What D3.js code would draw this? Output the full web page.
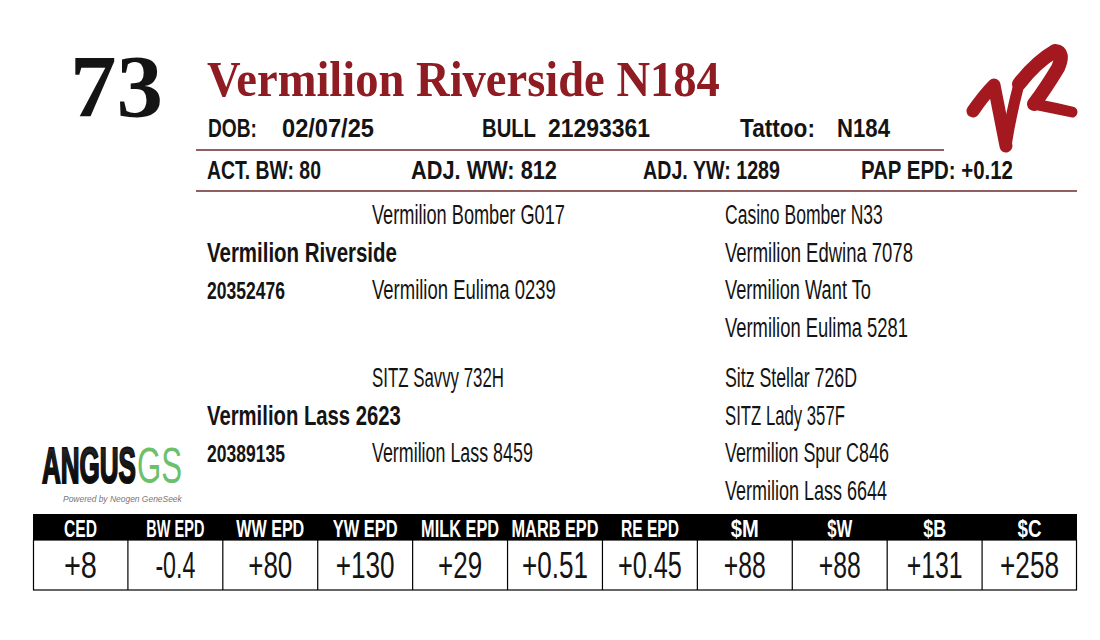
<!DOCTYPE html>
<html>
<head>
<meta charset="utf-8">
<script src="https://cdn.jsdelivr.net/npm/d3@7"></script>
<style>
  body { margin: 0; background: #fff; }
  text { font-family: "Liberation Sans Narrow", "Liberation Sans", Arial, sans-serif; fill: #141414; }
  .serif { font-family: "Liberation Serif", "Times New Roman", serif; font-weight: bold; }
  .info { font-size: 25px; font-weight: bold; }
  .ped { font-size: 27px; }
  .pedBold { font-size: 28px; font-weight: bold; }
  .reg { font-size: 24px; font-weight: bold; }
  .head { font-size: 23px; font-weight: bold; fill: #fff; }
  .val { font-size: 37px; }
</style>
</head>
<body>
<div id="card"></div>
<script>
// lot data
const lotNumber = "73";
const animalName = "Vermilion Riverside N184";
const idLabels = ["DOB:", "BULL", "Tattoo:"];
const idValues = ["02/07/25", "21293361", "N184"];
const perfLabels = ["ACT. BW:", "ADJ. WW:", "ADJ. YW:", "PAP EPD:"];
const perfValues = ["80", "812", "1289", "+0.12"];

// pedigree: [name, reg, sire, dam] and the four great-grandparents
const sireSide = ["Vermilion Riverside", "20352476", "Vermilion Bomber G017", "Vermilion Eulima 0239"];
const sireGrand = ["Casino Bomber N33", "Vermilion Edwina 7078", "Vermilion Want To", "Vermilion Eulima 5281"];
const damSide = ["Vermilion Lass 2623", "20389135", "SITZ Savvy 732H", "Vermilion Lass 8459"];
const damGrand = ["Sitz Stellar 726D", "SITZ Lady 357F", "Vermilion Spur C846", "Vermilion Lass 6644"];

const epdLabels = ["CED", "BW EPD", "WW EPD", "YW EPD", "MILK EPD", "MARB EPD", "RE EPD", "$M", "$W", "$B", "$C"];
const epdValues = ["+8", "-0.4", "+80", "+130", "+29", "+0.51", "+0.45", "+88", "+88", "+131", "+258"];

// measured text widths (layout only)
const fitWidths = {
  "73": 93, "Vermilion Riverside N184": 513,
  "DOB:": 49, "02/07/25": 92, "BULL": 54, "21293361": 102, "Tattoo:": 75, "N184": 53,
  "ACT. BW: 80": 114, "ADJ. WW: 812": 146, "ADJ. YW: 1289": 137, "PAP EPD: +0.12": 152,
  "Vermilion Riverside": 190, "Vermilion Lass 2623": 194, "20352476": 78, "20389135": 78,
  "Vermilion Bomber G017": 193, "Vermilion Eulima 0239": 184, "SITZ Savvy 732H": 132, "Vermilion Lass 8459": 161,
  "Casino Bomber N33": 158, "Vermilion Edwina 7078": 188, "Vermilion Want To": 146, "Vermilion Eulima 5281": 183,
  "Sitz Stellar 726D": 132, "SITZ Lady 357F": 120, "Vermilion Spur C846": 164, "Vermilion Lass 6644": 162,
  "CED": 33, "BW EPD": 58, "WW EPD": 68, "YW EPD": 65, "MILK EPD": 78, "MARB EPD": 87, "RE EPD": 58,
  "$M": 28, "$W": 25, "$B": 23, "$C": 24,
  "+8": 33, "-0.4": 40, "+80": 44, "+130": 59, "+29": 44, "+0.51": 66, "+0.45": 64,
  "+88": 42, "+131": 56, "+258": 59,
  "ANGUS": 94, "GS": 45, "Powered by Neogen GeneSeek": 119
};

const width = 1100;
const height = 640;
const red = "#8e1c22";
const rule = "#6b2a2a";

const svg = d3.select("#card").append("svg").attr("width", width).attr("height", height);

// append a text, then squeeze it to its measured width at (x, y)
function put(g, txt, cls, anchor) {
  return g.append("text")
    .attr("class", cls)
    .attr("text-anchor", anchor || "start")
    .text(txt);
}
function fit(t, x, y) {
  const w = fitWidths[t.text()];
  let sx = 1;
  if (w) sx = w / t.node().getComputedTextLength();
  t.attr("transform", `translate(${x},${y}) scale(${sx},1)`);
  return t;
}
function place(g, txt, x, y, cls, anchor) {
  return fit(put(g, txt, cls, anchor), x, y);
}

// header: lot number and name
fit(put(svg, lotNumber, "serif").attr("font-size", 88), 70, 116);
fit(put(svg, animalName, "serif").attr("font-size", 50).style("fill", red), 207, 96);

// id row and performance row
const idLabelX = [208, 482, 740];
const idValueX = [282, 548, 837];
idLabels.forEach((d, i) => {
  place(svg, d, idLabelX[i], 137, "info");
  place(svg, idValues[i], idValueX[i], 137, "info");
});
svg.append("line").attr("x1", 196).attr("x2", 944).attr("y1", 150).attr("y2", 150)
  .attr("stroke", rule).attr("stroke-width", 1.5);

const perfX = [207, 411, 643, 861];
perfLabels.forEach((d, i) => {
  place(svg, `${d} ${perfValues[i]}`, perfX[i], 179, "info");
});
svg.append("line").attr("x1", 196).attr("x2", 1077).attr("y1", 191).attr("y2", 191)
  .attr("stroke", rule).attr("stroke-width", 1.5);

// pedigree
const rowY = d3.scaleLinear().domain([0, 3]).range([224, 337]);
const damOffset = 163;
const colX = [207, 372, 725];

function pedigreeBlock(side, grand, offset) {
  const g = svg.append("g");
  place(g, side[0], colX[0], rowY(1) + offset, "pedBold");
  place(g, side[1], colX[0], rowY(2) + offset, "reg");
  place(g, side[2], colX[1], rowY(0) + offset, "ped");
  place(g, side[3], colX[1], rowY(2) + offset, "ped");
  grand.forEach((d, i) => place(g, d, colX[2], rowY(i) + offset, "ped"));
}
pedigreeBlock(sireSide, sireGrand, 0);
pedigreeBlock(damSide, damGrand, damOffset);

// EPD table
const x = d3.scaleBand().domain(epdLabels).range([33, 1077]);
const table = svg.append("g");
table.append("rect").attr("x", 33).attr("y", 514).attr("width", 1044).attr("height", 26).attr("fill", "#000");
table.append("rect").attr("x", 33.5).attr("y", 540).attr("width", 1043).attr("height", 50)
  .attr("fill", "none").attr("stroke", "#000").attr("stroke-width", 1.2);
table.selectAll(".sep")
  .data(epdLabels.slice(1))
  .join("line")
  .attr("class", "sep")
  .attr("x1", (d) => x(d)).attr("x2", (d) => x(d))
  .attr("y1", 540).attr("y2", 590)
  .attr("stroke", "#000").attr("stroke-width", 1.2);
epdLabels.forEach((d, i) => {
  const cx = x(d) + x.bandwidth() / 2;
  place(table, d, cx, 537, "head", "middle");
  place(table, epdValues[i], cx, 578, "val", "middle");
});

// VR brand mark
const logo = svg.append("g")
  .attr("fill", "none")
  .attr("stroke", "#a3191f")
  .attr("stroke-linecap", "round")
  .attr("stroke-linejoin", "round");
logo.append("path").attr("stroke-width", 13).attr("d", "M973,111 Q984,95 994,85 Q1000,116 1006,146");
logo.append("path").attr("stroke-width", 11).attr("d", "M1006,146 Q1011,114 1019,84");
logo.append("path").attr("stroke-width", 14).attr("d", "M1019,84 Q1036,62 1055,51 Q1065,52 1058,68 Q1046,88 1034,104");
logo.append("path").attr("stroke-width", 11).attr("d", "M1034,104 Q1054,108 1072,112");

// AngusGS logo
const grad = svg.append("defs").append("linearGradient")
  .attr("id", "angusGrad").attr("x1", 0).attr("x2", 0).attr("y1", 0).attr("y2", 1);
grad.append("stop").attr("offset", "0%").attr("stop-color", "#2e2e2e");
grad.append("stop").attr("offset", "100%").attr("stop-color", "#000");
fit(put(svg, "ANGUS", "")
  .attr("font-size", 50).attr("font-weight", "bold")
  .attr("stroke", "#111").attr("stroke-width", 2.2)
  .style("fill", "url(#angusGrad)"), 42, 483);
fit(put(svg, "GS", "")
  .attr("font-size", 50)
  .style("fill", "#6cc06a"), 137, 483);
fit(put(svg, "Powered by Neogen GeneSeek", "")
  .attr("font-size", 9).attr("font-style", "italic")
  .style("fill", "#777"), 63, 502);
</script>
</body>
</html>
